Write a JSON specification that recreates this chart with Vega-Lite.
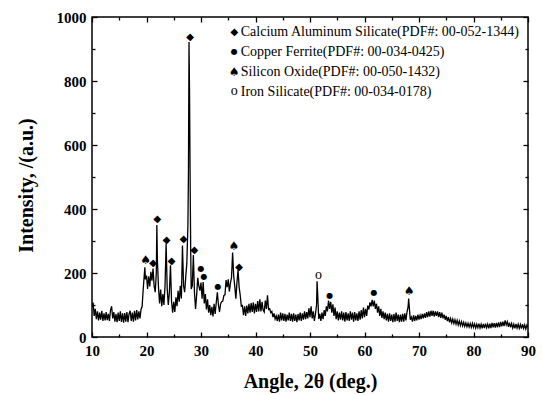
{
"$schema": "https://vega.github.io/schema/vega-lite/v6.json",
"width": 436, "height": 320,
"autosize": {"type": "none"},
"padding": {"left": 92, "top": 17, "right": 14, "bottom": 58},
"background": "white",
"config": {
  "view": {"stroke": "black", "strokeWidth": 1.5},
  "axis": {"domain": false, "grid": false, "tickColor": "black", "tickWidth": 1.3, "format": "d", "labelFlush": false,
    "labelFont": "Liberation Serif", "labelFontWeight": "bold", "labelFontSize": 15, "labelColor": "black",
    "titleFont": "Liberation Serif", "titleFontWeight": "bold", "titleFontSize": 20, "titleColor": "black"}
},
"datasets": {
"pattern": [
{"a":10.0,"i":92},{"a":10.2,"i":108},{"a":10.4,"i":66},{"a":10.6,"i":88},{"a":10.8,"i":56},{"a":11.0,"i":80},{"a":11.2,"i":52},{"a":11.4,"i":76},{"a":11.6,"i":54},{"a":11.8,"i":82},
{"a":12.0,"i":50},{"a":12.2,"i":74},{"a":12.4,"i":52},{"a":12.6,"i":78},{"a":12.8,"i":53},{"a":13.0,"i":72},{"a":13.2,"i":50},{"a":13.4,"i":84},{"a":13.6,"i":96},{"a":13.8,"i":58},
{"a":14.0,"i":78},{"a":14.2,"i":48},{"a":14.4,"i":72},{"a":14.6,"i":46},{"a":14.8,"i":76},{"a":15.0,"i":50},{"a":15.2,"i":80},{"a":15.4,"i":47},{"a":15.6,"i":74},{"a":15.8,"i":45},
{"a":16.0,"i":75},{"a":16.2,"i":48},{"a":16.4,"i":78},{"a":16.6,"i":46},{"a":16.8,"i":72},{"a":17.0,"i":82},{"a":17.2,"i":50},{"a":17.4,"i":76},{"a":17.6,"i":48},{"a":17.8,"i":82},
{"a":18.0,"i":52},{"a":18.2,"i":84},{"a":18.4,"i":55},{"a":18.6,"i":80},{"a":18.8,"i":58},{"a":19.0,"i":86},{"a":19.2,"i":96},{"a":19.4,"i":150},{"a":19.6,"i":196},{"a":19.7,"i":218},
{"a":19.8,"i":180},{"a":20.0,"i":192},{"a":20.2,"i":150},{"a":20.4,"i":190},{"a":20.6,"i":158},{"a":20.8,"i":204},{"a":21.0,"i":176},{"a":21.2,"i":214},{"a":21.4,"i":160},{"a":21.6,"i":140},
{"a":21.8,"i":200},{"a":21.9,"i":350},{"a":22.0,"i":240},{"a":22.2,"i":155},{"a":22.4,"i":105},{"a":22.6,"i":148},{"a":22.8,"i":96},{"a":23.0,"i":134},{"a":23.2,"i":100},{"a":23.4,"i":160},
{"a":23.6,"i":292},{"a":23.8,"i":150},{"a":24.0,"i":100},{"a":24.2,"i":140},{"a":24.4,"i":224},{"a":24.6,"i":110},{"a":24.8,"i":76},{"a":25.0,"i":110},{"a":25.2,"i":78},{"a":25.4,"i":124},
{"a":25.6,"i":96},{"a":25.8,"i":144},{"a":26.0,"i":110},{"a":26.2,"i":160},{"a":26.4,"i":120},{"a":26.6,"i":286},{"a":26.8,"i":160},{"a":27.0,"i":140},{"a":27.2,"i":188},{"a":27.4,"i":230},
{"a":27.6,"i":350},{"a":27.7,"i":520},{"a":27.8,"i":922},{"a":27.9,"i":760},{"a":28.0,"i":505},{"a":28.1,"i":290},{"a":28.2,"i":150},{"a":28.4,"i":160},{"a":28.6,"i":256},{"a":28.8,"i":140},
{"a":29.0,"i":88},{"a":29.2,"i":130},{"a":29.4,"i":185},{"a":29.6,"i":160},{"a":29.8,"i":145},{"a":30.0,"i":170},{"a":30.2,"i":120},{"a":30.4,"i":172},{"a":30.6,"i":105},{"a":30.8,"i":134},
{"a":31.0,"i":86},{"a":31.2,"i":118},{"a":31.4,"i":76},{"a":31.6,"i":100},{"a":31.8,"i":68},{"a":32.0,"i":94},{"a":32.2,"i":64},{"a":32.4,"i":104},{"a":32.6,"i":72},{"a":32.8,"i":108},
{"a":33.0,"i":140},{"a":33.2,"i":100},{"a":33.4,"i":78},{"a":33.6,"i":104},{"a":33.8,"i":110},{"a":34.0,"i":112},{"a":34.2,"i":130},{"a":34.4,"i":132},{"a":34.6,"i":178},{"a":34.8,"i":156},
{"a":35.0,"i":180},{"a":35.2,"i":142},{"a":35.4,"i":168},{"a":35.6,"i":186},{"a":35.8,"i":264},{"a":36.0,"i":190},{"a":36.2,"i":158},{"a":36.4,"i":120},{"a":36.6,"i":170},{"a":36.8,"i":210},
{"a":37.0,"i":156},{"a":37.2,"i":130},{"a":37.4,"i":96},{"a":37.6,"i":98},{"a":37.8,"i":68},{"a":38.0,"i":96},{"a":38.2,"i":66},{"a":38.4,"i":98},{"a":38.6,"i":74},{"a":38.8,"i":104},
{"a":39.0,"i":76},{"a":39.2,"i":106},{"a":39.4,"i":78},{"a":39.6,"i":108},{"a":39.8,"i":74},{"a":40.0,"i":104},{"a":40.2,"i":78},{"a":40.4,"i":112},{"a":40.6,"i":80},{"a":40.8,"i":118},
{"a":41.0,"i":80},{"a":41.2,"i":110},{"a":41.4,"i":84},{"a":41.6,"i":78},{"a":41.8,"i":114},{"a":42.0,"i":88},{"a":42.2,"i":130},{"a":42.4,"i":86},{"a":42.6,"i":88},{"a":42.8,"i":76},
{"a":43.0,"i":80},{"a":43.2,"i":62},{"a":43.4,"i":74},{"a":43.6,"i":56},{"a":43.8,"i":66},{"a":44.0,"i":50},{"a":44.2,"i":70},{"a":44.4,"i":48},{"a":44.6,"i":76},{"a":44.8,"i":52},
{"a":45.0,"i":74},{"a":45.2,"i":50},{"a":45.4,"i":72},{"a":45.6,"i":48},{"a":45.8,"i":70},{"a":46.0,"i":52},{"a":46.2,"i":76},{"a":46.4,"i":50},{"a":46.6,"i":72},{"a":46.8,"i":48},
{"a":47.0,"i":74},{"a":47.2,"i":50},{"a":47.4,"i":70},{"a":47.6,"i":46},{"a":47.8,"i":72},{"a":48.0,"i":52},{"a":48.2,"i":76},{"a":48.4,"i":50},{"a":48.6,"i":74},{"a":48.8,"i":54},
{"a":49.0,"i":80},{"a":49.2,"i":56},{"a":49.4,"i":78},{"a":49.6,"i":58},{"a":49.8,"i":90},{"a":50.0,"i":62},{"a":50.2,"i":96},{"a":50.4,"i":58},{"a":50.6,"i":80},{"a":50.8,"i":50},
{"a":51.0,"i":72},{"a":51.2,"i":100},{"a":51.3,"i":174},{"a":51.4,"i":138},{"a":51.6,"i":56},{"a":51.8,"i":72},{"a":52.0,"i":50},{"a":52.2,"i":76},{"a":52.4,"i":56},{"a":52.6,"i":84},
{"a":52.8,"i":66},{"a":53.0,"i":96},{"a":53.2,"i":80},{"a":53.4,"i":114},{"a":53.6,"i":88},{"a":53.8,"i":110},{"a":54.0,"i":76},{"a":54.2,"i":102},{"a":54.4,"i":66},{"a":54.6,"i":92},
{"a":54.8,"i":56},{"a":55.0,"i":80},{"a":55.2,"i":52},{"a":55.4,"i":76},{"a":55.6,"i":54},{"a":55.8,"i":80},{"a":56.0,"i":52},{"a":56.2,"i":76},{"a":56.4,"i":48},{"a":56.6,"i":78},
{"a":56.8,"i":52},{"a":57.0,"i":74},{"a":57.2,"i":50},{"a":57.4,"i":80},{"a":57.6,"i":54},{"a":57.8,"i":76},{"a":58.0,"i":48},{"a":58.2,"i":78},{"a":58.4,"i":52},{"a":58.6,"i":74},
{"a":58.8,"i":50},{"a":59.0,"i":80},{"a":59.2,"i":54},{"a":59.4,"i":84},{"a":59.6,"i":58},{"a":59.8,"i":92},{"a":60.0,"i":62},{"a":60.2,"i":88},{"a":60.4,"i":66},{"a":60.6,"i":98},
{"a":60.8,"i":86},{"a":61.0,"i":108},{"a":61.2,"i":96},{"a":61.4,"i":116},{"a":61.6,"i":96},{"a":61.8,"i":114},{"a":62.0,"i":88},{"a":62.2,"i":104},{"a":62.4,"i":76},{"a":62.6,"i":96},
{"a":62.8,"i":66},{"a":63.0,"i":88},{"a":63.2,"i":60},{"a":63.4,"i":80},{"a":63.6,"i":56},{"a":63.8,"i":76},{"a":64.0,"i":52},{"a":64.2,"i":72},{"a":64.4,"i":48},{"a":64.6,"i":74},
{"a":64.8,"i":50},{"a":65.0,"i":70},{"a":65.2,"i":46},{"a":65.4,"i":72},{"a":65.6,"i":48},{"a":65.8,"i":76},{"a":66.0,"i":50},{"a":66.2,"i":70},{"a":66.4,"i":46},{"a":66.6,"i":70},
{"a":66.8,"i":48},{"a":67.0,"i":72},{"a":67.2,"i":48},{"a":67.4,"i":74},{"a":67.6,"i":52},{"a":67.8,"i":78},{"a":68.0,"i":94},{"a":68.1,"i":120},{"a":68.2,"i":98},{"a":68.4,"i":54},
{"a":68.6,"i":62},{"a":68.8,"i":48},{"a":69.0,"i":68},{"a":69.2,"i":50},{"a":69.4,"i":66},{"a":69.6,"i":52},{"a":69.8,"i":70},{"a":70.0,"i":54},{"a":70.2,"i":68},{"a":70.4,"i":56},
{"a":70.6,"i":72},{"a":70.8,"i":58},{"a":71.0,"i":74},{"a":71.2,"i":60},{"a":71.4,"i":78},{"a":71.6,"i":62},{"a":71.8,"i":80},{"a":72.0,"i":64},{"a":72.2,"i":82},{"a":72.4,"i":66},
{"a":72.6,"i":82},{"a":72.8,"i":64},{"a":73.0,"i":80},{"a":73.2,"i":66},{"a":73.4,"i":80},{"a":73.6,"i":62},{"a":73.8,"i":78},{"a":74.0,"i":60},{"a":74.2,"i":76},{"a":74.4,"i":58},
{"a":74.6,"i":70},{"a":74.8,"i":54},{"a":75.0,"i":66},{"a":75.2,"i":50},{"a":75.4,"i":62},{"a":75.6,"i":46},{"a":75.8,"i":58},{"a":76.0,"i":44},{"a":76.2,"i":56},{"a":76.4,"i":42},
{"a":76.6,"i":54},{"a":76.8,"i":40},{"a":77.0,"i":52},{"a":77.2,"i":38},{"a":77.4,"i":50},{"a":77.6,"i":36},{"a":77.8,"i":48},{"a":78.0,"i":35},{"a":78.2,"i":46},{"a":78.4,"i":33},
{"a":78.6,"i":44},{"a":78.8,"i":32},{"a":79.0,"i":43},{"a":79.2,"i":31},{"a":79.4,"i":42},{"a":79.6,"i":30},{"a":79.8,"i":43},{"a":80.0,"i":30},{"a":80.2,"i":41},{"a":80.4,"i":28},
{"a":80.6,"i":40},{"a":80.8,"i":29},{"a":81.0,"i":42},{"a":81.2,"i":28},{"a":81.4,"i":40},{"a":81.6,"i":27},{"a":81.8,"i":41},{"a":82.0,"i":28},{"a":82.2,"i":42},{"a":82.4,"i":29},
{"a":82.6,"i":40},{"a":82.8,"i":27},{"a":83.0,"i":42},{"a":83.2,"i":28},{"a":83.4,"i":44},{"a":83.6,"i":30},{"a":83.8,"i":43},{"a":84.0,"i":29},{"a":84.2,"i":44},{"a":84.4,"i":30},
{"a":84.6,"i":46},{"a":84.8,"i":31},{"a":85.0,"i":47},{"a":85.2,"i":33},{"a":85.4,"i":48},{"a":85.6,"i":34},{"a":85.8,"i":52},{"a":86.0,"i":38},{"a":86.2,"i":48},{"a":86.4,"i":32},
{"a":86.6,"i":45},{"a":86.8,"i":30},{"a":87.0,"i":42},{"a":87.2,"i":28},{"a":87.4,"i":40},{"a":87.6,"i":27},{"a":87.8,"i":41},{"a":88.0,"i":28},{"a":88.2,"i":40},{"a":88.4,"i":27},
{"a":88.6,"i":39},{"a":88.8,"i":26},{"a":89.0,"i":40},{"a":89.2,"i":27},{"a":89.4,"i":38},{"a":89.6,"i":25},{"a":89.8,"i":37},{"a":90.0,"i":30}
],
"markers": [
{"a":19.85,"i":242,"phase":"Silicon Oxide"},{"a":21.2,"i":230,"phase":"Calcium Aluminum Silicate"},{"a":22.0,"i":369,"phase":"Calcium Aluminum Silicate"},{"a":23.7,"i":304,"phase":"Calcium Aluminum Silicate"},
{"a":24.6,"i":239,"phase":"Calcium Aluminum Silicate"},{"a":26.8,"i":306,"phase":"Calcium Aluminum Silicate"},{"a":28.0,"i":938,"phase":"Calcium Aluminum Silicate"},{"a":28.8,"i":273,"phase":"Calcium Aluminum Silicate"},
{"a":30.0,"i":211,"phase":"Copper Ferrite"},{"a":30.55,"i":186,"phase":"Copper Ferrite"},{"a":33.1,"i":155,"phase":"Copper Ferrite"},{"a":36.05,"i":284,"phase":"Silicon Oxide"},
{"a":37.0,"i":219,"phase":"Calcium Aluminum Silicate"},{"a":51.55,"i":191,"phase":"Iron Silicate"},{"a":53.6,"i":128,"phase":"Copper Ferrite"},{"a":61.75,"i":136,"phase":"Copper Ferrite"},
{"a":68.2,"i":143,"phase":"Silicon Oxide"},
{"a":36.1,"i":954,"phase":"Calcium Aluminum Silicate"},{"a":36.1,"i":892,"phase":"Copper Ferrite"},{"a":36.1,"i":829,"phase":"Silicon Oxide"},{"a":36.1,"i":767,"phase":"Iron Silicate"}
],
"legend": [
{"a":37.3,"i":954,"label":"Calcium Aluminum Silicate(PDF#: 00-052-1344)"},
{"a":37.3,"i":892,"label":"Copper Ferrite(PDF#: 00-034-0425)"},
{"a":37.3,"i":829,"label":"Silicon Oxide(PDF#: 00-050-1432)"},
{"a":37.3,"i":767,"label":"Iron Silicate(PDF#: 00-034-0178)"}
]
},
"resolve": {"axis": {"x": "independent", "y": "independent"}},
"layer": [
{
  "data": {"name": "pattern"},
  "mark": {"type": "line", "color": "black", "strokeWidth": 1.3, "clip": true},
  "encoding": {
    "x": {"field": "a", "type": "quantitative", "scale": {"domain": [10, 90], "nice": false, "zero": false},
      "axis": {"orient": "bottom", "values": [10,20,30,40,50,60,70,80,90], "tickSize": -5, "labelPadding": 11, "title": "Angle, 2θ (deg.)", "titlePadding": 13}},
    "y": {"field": "i", "type": "quantitative", "scale": {"domain": [0, 1000], "nice": false, "zero": false},
      "axis": {"orient": "left", "values": [0,200,400,600,800,1000], "tickSize": -5, "labelPadding": 11, "title": "Intensity, /(a.u.)", "titlePadding": 20, "titleY": 168}}
  }
},
{
  "data": {"name": "markers"},
  "transform": [{"filter": "datum.phase === 'Calcium Aluminum Silicate'"}],
  "mark": {"type": "text", "text": "◆", "font": "DejaVu Sans", "fontSize": 10, "color": "black", "align": "center", "baseline": "middle"},
  "encoding": {
    "x": {"field": "a", "type": "quantitative", "scale": {"domain": [10, 90], "nice": false, "zero": false},
      "axis": {"orient": "bottom", "values": [15,25,35,45,55,65,75,85], "tickSize": -3, "labels": false, "title": null}},
    "y": {"field": "i", "type": "quantitative", "scale": {"domain": [0, 1000], "nice": false, "zero": false},
      "axis": {"orient": "left", "values": [100,300,500,700,900], "tickSize": -3, "labels": false, "title": null}}
  }
},
{
  "data": {"name": "markers"},
  "transform": [{"filter": "datum.phase === 'Copper Ferrite'"}],
  "mark": {"type": "text", "text": "●", "font": "DejaVu Sans", "fontSize": 8, "color": "black", "align": "center", "baseline": "middle"},
  "encoding": {
    "x": {"field": "a", "type": "quantitative", "scale": {"domain": [10, 90], "nice": false, "zero": false},
      "axis": {"orient": "top", "values": [10,20,30,40,50,60,70,80,90], "tickSize": -5, "labels": false, "title": null}},
    "y": {"field": "i", "type": "quantitative", "scale": {"domain": [0, 1000], "nice": false, "zero": false},
      "axis": {"orient": "right", "values": [0,200,400,600,800,1000], "tickSize": -5, "labels": false, "title": null}}
  }
},
{
  "data": {"name": "markers"},
  "transform": [{"filter": "datum.phase === 'Silicon Oxide'"}],
  "mark": {"type": "text", "text": "♠", "font": "DejaVu Sans", "fontSize": 12, "color": "black", "align": "center", "baseline": "middle"},
  "encoding": {
    "x": {"field": "a", "type": "quantitative", "scale": {"domain": [10, 90], "nice": false, "zero": false},
      "axis": {"orient": "top", "values": [15,25,35,45,55,65,75,85], "tickSize": -3, "labels": false, "title": null}},
    "y": {"field": "i", "type": "quantitative", "scale": {"domain": [0, 1000], "nice": false, "zero": false},
      "axis": {"orient": "right", "values": [100,300,500,700,900], "tickSize": -3, "labels": false, "title": null}}
  }
},
{
  "data": {"name": "markers"},
  "transform": [{"filter": "datum.phase === 'Iron Silicate'"}],
  "mark": {"type": "text", "text": "o", "font": "Liberation Serif", "fontSize": 14, "color": "black", "align": "center", "baseline": "middle", "dy": -1},
  "encoding": {
    "x": {"field": "a", "type": "quantitative", "scale": {"domain": [10, 90], "nice": false, "zero": false}, "axis": null},
    "y": {"field": "i", "type": "quantitative", "scale": {"domain": [0, 1000], "nice": false, "zero": false}, "axis": null}
  }
},
{
  "data": {"name": "legend"},
  "mark": {"type": "text", "font": "Liberation Serif", "fontSize": 14, "color": "black", "align": "left", "baseline": "middle"},
  "encoding": {
    "x": {"field": "a", "type": "quantitative", "scale": {"domain": [10, 90], "nice": false, "zero": false}, "axis": null},
    "y": {"field": "i", "type": "quantitative", "scale": {"domain": [0, 1000], "nice": false, "zero": false}, "axis": null},
    "text": {"field": "label"}
  }
}
]
}
